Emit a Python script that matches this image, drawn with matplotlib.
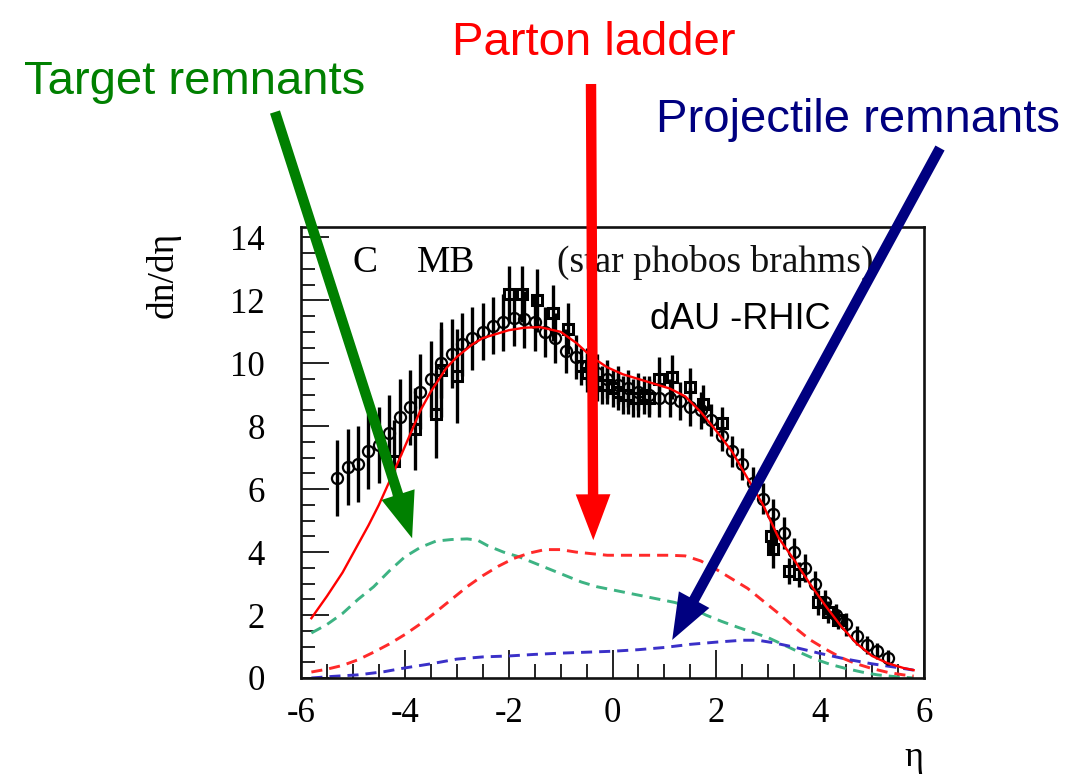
import matplotlib
matplotlib.use("Agg")
import matplotlib.pyplot as plt
from matplotlib.transforms import Affine2D
from matplotlib.ticker import MultipleLocator

plt.rcParams["axes.unicode_minus"] = False

W, H = 1071, 774

# ---- model curves: pseudorapidity vs dn/deta ----
eta_total = [-5.8, -5.5, -5.2, -5.0, -4.7, -4.5, -4.2, -4.0, -3.7, -3.5, -3.2, -3.0,
             -2.7, -2.5, -2.2, -2.0, -1.7, -1.4, -1.0, -0.7, -0.4, -0.1, 0.2, 0.5,
             0.8, 1.1, 1.4, 1.7, 2.0, 2.3, 2.6, 2.9, 3.2, 3.5, 3.8, 4.1, 4.4, 4.7,
             5.0, 5.3, 5.6, 5.8]
dn_total = [1.9, 2.6, 3.35, 3.95, 4.85, 5.5, 6.6, 7.35, 8.5, 9.1, 9.85, 10.2,
            10.6, 10.8, 10.95, 11.05, 11.13, 11.15, 11.0, 10.65, 10.2, 9.87, 9.65, 9.5,
            9.35, 9.2, 8.95, 8.45, 7.85, 7.2, 6.35, 5.5, 4.45, 3.75, 3.0, 2.3, 1.65, 1.1,
            0.7, 0.47, 0.32, 0.25]

eta_target = [-5.8, -5.5, -5.2, -4.9, -4.6, -4.3, -4.0, -3.7, -3.4, -3.1, -2.8, -2.6,
              -2.4, -2.1, -1.8, -1.5, -1.2, -0.9, -0.6, -0.3, 0.0, 0.3, 0.6, 0.9,
              1.2, 1.5, 1.8, 2.1, 2.4, 2.7, 3.0, 3.3, 3.6, 3.9, 4.2, 4.5, 4.8, 5.1,
              5.4, 5.8]
dn_target = [1.43, 1.7, 2.05, 2.5, 2.9, 3.4, 3.85, 4.15, 4.35, 4.4, 4.42, 4.38,
             4.2, 4.0, 3.85, 3.65, 3.45, 3.25, 3.05, 2.9, 2.8, 2.7, 2.6, 2.5,
             2.4, 2.25, 2.0, 1.8, 1.62, 1.45, 1.28, 1.05, 0.82, 0.6, 0.43, 0.3, 0.19, 0.1,
             0.05, 0.0]

eta_ladder = [-5.8, -5.5, -5.2, -4.9, -4.6, -4.3, -4.0, -3.7, -3.4, -3.1, -2.8, -2.5,
              -2.2, -1.9, -1.6, -1.3, -1.0, -0.7, -0.4, -0.1, 0.2, 0.5, 0.8, 1.1,
              1.4, 1.7, 2.0, 2.3, 2.6, 2.9, 3.2, 3.5, 3.8, 4.1, 4.4, 4.7, 5.0, 5.3,
              5.6, 5.8]
dn_ladder = [0.19, 0.28, 0.4, 0.58, 0.82, 1.08, 1.38, 1.72, 2.1, 2.5, 2.9, 3.25,
             3.55, 3.8, 3.97, 4.08, 4.08, 4.0, 3.95, 3.9, 3.9, 3.9, 3.9, 3.9,
             3.88, 3.72, 3.45, 3.15, 2.85, 2.45, 2.05, 1.62, 1.22, 0.92, 0.65, 0.45, 0.3, 0.18,
             0.1, 0.06]

eta_proj = [-5.8, -5.4, -4.9, -4.4, -4.0, -3.5, -3.0, -2.5, -2.0, -1.5, -1.0, -0.5,
            0.0, 0.5, 1.0, 1.5, 2.0, 2.5, 2.8, 3.1, 3.5, 4.0, 4.5, 5.0, 5.5, 5.8]
dn_proj = [0.0, 0.05, 0.1, 0.2, 0.32, 0.45, 0.6, 0.67, 0.7, 0.75, 0.79, 0.82,
           0.85, 0.9, 0.97, 1.07, 1.14, 1.2, 1.2, 1.12, 0.98, 0.78, 0.6, 0.45, 0.33, 0.25]

# ---- measurements ----
eta_circ = [-5.3, -5.1, -4.9, -4.7, -4.5, -4.3, -4.1, -3.9, -3.7, -3.5, -3.3, -3.1,
            -2.9, -2.7, -2.5, -2.3, -2.1, -1.9, -1.7, -1.5, -1.3, -1.1, -0.9, -0.7,
            -0.5, -0.3, -0.1, 0.1, 0.3, 0.5, 0.7, 0.9, 1.1, 1.3, 1.5, 1.7, 1.9, 2.1,
            2.3, 2.5, 2.7, 2.9, 3.1, 3.3, 3.5, 3.7, 3.9, 4.1, 4.3, 4.5, 4.7, 4.9,
            5.1, 5.3]
dn_circ = [6.35, 6.7, 6.8, 7.2, 7.4, 7.8, 8.3, 8.6, 9.1, 9.5, 10.0, 10.3,
           10.6, 10.8, 11.0, 11.2, 11.3, 11.45, 11.4, 11.3, 11.0, 10.8, 10.4, 10.2,
           9.9, 9.7, 9.5, 9.3, 9.2, 9.1, 9.0, 8.9, 8.9, 8.8, 8.6, 8.5, 8.2, 7.7,
           7.2, 6.8, 6.2, 5.7, 5.2, 4.6, 4.0, 3.5, 3.0, 2.4, 2.0, 1.7, 1.35, 1.05,
           0.85, 0.65]
err_circ = [1.2, 1.2, 1.2, 1.2, 1.2, 1.2, 1.2, 1.2, 1.2, 1.2, 1.1, 1.1,
            1.0, 1.0, 0.9, 0.9, 0.9, 0.9, 0.9, 0.9, 0.8, 0.8, 0.7, 0.7,
            0.6, 0.6, 0.6, 0.6, 0.6, 0.6, 0.6, 0.6, 0.6, 0.6, 0.6, 0.6, 0.5, 0.5,
            0.5, 0.5, 0.5, 0.5, 0.5, 0.5, 0.45, 0.45, 0.4, 0.4, 0.35, 0.35, 0.3, 0.3,
            0.25, 0.25]

eta_sq = [-4.2, -3.8, -3.4, -3.3, -3.0, -2.0, -1.75, -1.45, -1.15, -0.85,
          -0.6, -0.5, -0.4, -0.3, -0.2, -0.1, 0.0, 0.1, 0.2, 0.3, 0.4, 0.5, 0.6,
          0.7, 0.9, 1.15, 1.5, 1.75, 2.1, 3.05, 3.1, 3.4, 3.6, 3.95, 4.15, 4.35]
dn_sq = [6.9, 7.9, 8.4, 9.8, 9.6, 12.2, 12.2, 12.0, 11.6, 11.1,
         9.9, 9.7, 9.6, 9.4, 9.3, 9.3, 9.2, 9.1, 9.0, 9.0, 8.9, 8.9, 9.0,
         8.9, 9.5, 9.55, 9.25, 8.7, 8.1, 4.5, 4.1, 3.4, 3.3, 2.4, 2.1, 1.85]
err_sq = [1.3, 1.3, 1.4, 1.5, 1.5, 0.9, 0.9, 1.0, 0.9, 0.8,
          0.6, 0.6, 0.6, 0.6, 0.6, 0.6, 0.6, 0.6, 0.6, 0.6, 0.6, 0.6, 0.6,
          0.6, 0.7, 0.7, 0.6, 0.6, 0.5, 0.6, 0.6, 0.4, 0.4, 0.4, 0.35, 0.3]

x_ticks = [-6, -4, -2, 0, 2, 4, 6]
y_ticks = [0, 2, 4, 6, 8, 10, 12, 14]

fig = plt.figure(figsize=(W / 100, H / 100), dpi=100)
ax = fig.add_axes([301 / W, 1 - 678 / H, 623 / W, 451 / H])

# pixel coordinates measured from the top-left of the canvas
px = Affine2D().scale(1, -1).translate(0, H).scale(1 / W, 1 / H) + fig.transFigure

serif = ["Liberation Serif", "DejaVu Serif"]
sans = ["Liberation Sans", "DejaVu Sans"]

dash = (0, (3.8, 2.4))
ax.plot(eta_target, dn_target, color="#3db383", lw=2.1, ls=dash, zorder=2)
ax.plot(eta_ladder, dn_ladder, color="#ff2a2a", lw=2.1, ls=dash, zorder=2)
ax.plot(eta_proj, dn_proj, color="#3a30c8", lw=2.1, ls=dash, zorder=2)

ax.errorbar(eta_circ, dn_circ, yerr=err_circ, fmt="o", ms=8, mfc="none", mec="black",
            mew=1.6, ecolor="black", elinewidth=2.4, capsize=0, zorder=3)
ax.errorbar(eta_sq, dn_sq, yerr=err_sq, fmt="s", ms=7.5, mfc="none", mec="black",
            mew=2.2, ecolor="black", elinewidth=2.4, capsize=0, zorder=3)

ax.plot(eta_total, dn_total, color="#ff0000", lw=1.7, zorder=4)

ax.set_xlim(-6, 6)
ax.set_ylim(0, 14.33)
ax.set_xticks(x_ticks)
ax.set_yticks(y_ticks)
ax.xaxis.set_minor_locator(MultipleLocator(0.5))
ax.yaxis.set_minor_locator(MultipleLocator(0.5))
ax.tick_params(which="both", direction="in", top=False, right=False, width=1.3,
               color="#111111")
ax.tick_params(which="major", length=20)
ax.tick_params(which="minor", length=10)
ax.tick_params(axis="y", which="major", pad=26)
ax.tick_params(axis="x", which="major", pad=14)
for lab in ax.get_xticklabels() + ax.get_yticklabels():
    lab.set_family(serif)
    lab.set_fontsize(25)
for sp in ax.spines.values():
    sp.set_linewidth(1.9)
    sp.set_color("#111111")

fig.text(163, 275, "dn/dη", transform=px, rotation=90, ha="center", va="center",
         family=serif, fontsize=27)
fig.text(914, 757, "η", transform=px, ha="center", va="center", family=serif,
         fontsize=26)

ax.text(352, 272, "C", transform=px, family=serif, fontsize=27, va="baseline")
ax.text(417, 272, "MB", transform=px, family=serif, fontsize=27, va="baseline")
ax.text(557, 272, "(star phobos brahms)", transform=px, family=serif, fontsize=27,
        va="baseline", color="#111111")
ax.text(740, 329, "dAU -RHIC", transform=px, family=sans, fontsize=26,
        ha="center", va="baseline")

# annotation labels
fig.text(195, 94, "Target remnants", transform=px, family=sans, fontsize=34,
         ha="center", va="baseline", color="#008000")
fig.text(594, 55, "Parton ladder", transform=px, family=sans, fontsize=34,
         ha="center", va="baseline", color="#ff0000")
fig.text(858, 132, "Projectile remnants", transform=px, family=sans, fontsize=34,
         ha="center", va="baseline", color="#000080")

style = "simple,head_length=0.66,head_width=0.5,tail_width=0.15"
for tip, start, col in [((-3.86, 4.44), (275, 112), "#008000"),
                        ((-0.37, 4.38), (591, 84), "#ff0000"),
                        ((1.15, 1.21), (940, 148), "#000080")]:
    ax.annotate("", xy=tip, xycoords="data", xytext=start, textcoords=px,
                arrowprops=dict(arrowstyle=style, mutation_scale=50, color=col,
                                shrinkA=0, shrinkB=0, lw=0),
                annotation_clip=False, zorder=10)

fig.savefig("out.png", dpi=100)
